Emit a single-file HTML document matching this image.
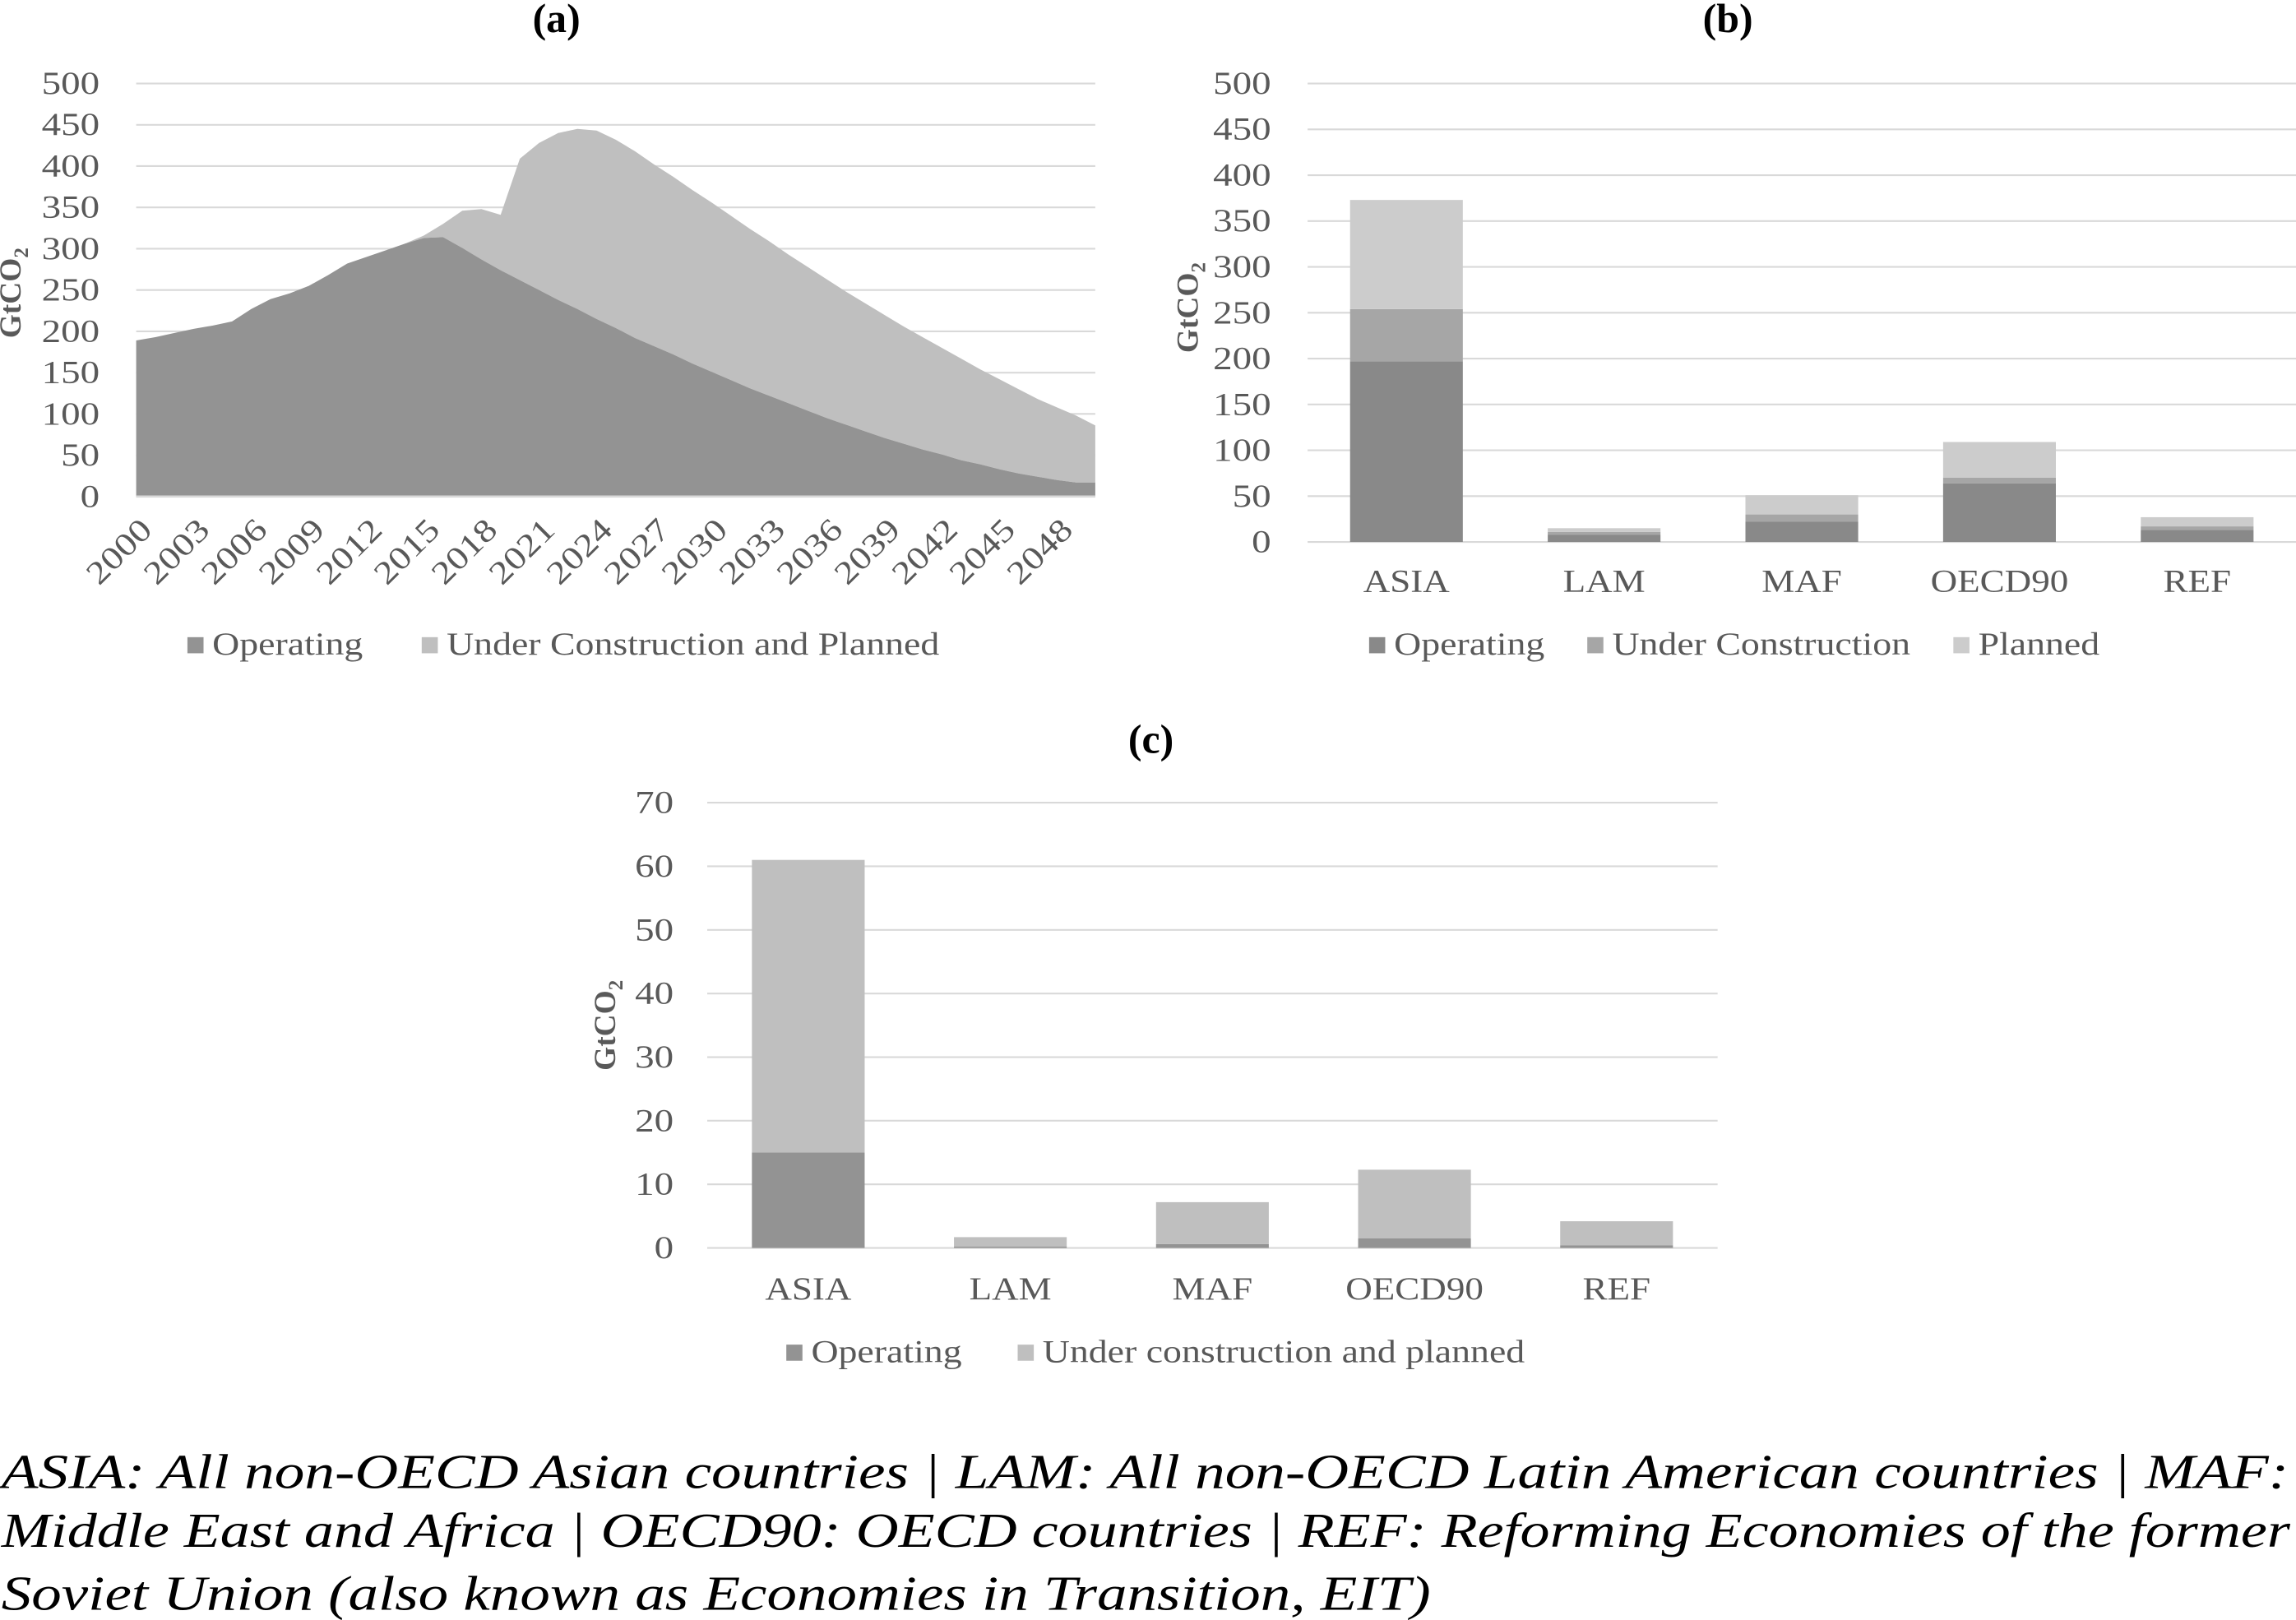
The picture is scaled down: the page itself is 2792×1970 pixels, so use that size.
<!DOCTYPE html>
<html><head><meta charset="utf-8">
<style>
html,body{margin:0;padding:0;background:#fff;}
svg{display:block;}
text{font-family:"Liberation Serif",serif;}
</style></head>
<body>
<svg id="root" width="2792" height="1970" viewBox="0 0 1568 1106" preserveAspectRatio="none" xmlns="http://www.w3.org/2000/svg">
<rect width="1568" height="1106" fill="#fff"/>
<g id="ga"></g>
<g id="gb"></g>
<g id="gc"></g>
<g font-style="italic" font-size="33" fill="#000">
<text x="1" y="1016" textLength="1562" lengthAdjust="spacingAndGlyphs">ASIA: All non-OECD Asian countries | LAM: All non-OECD Latin American countries | MAF:</text>
<text x="1" y="1056" textLength="1563" lengthAdjust="spacingAndGlyphs">Middle East and Africa | OECD90: OECD countries | REF: Reforming Economies of the former</text>
<text x="1" y="1099" textLength="976" lengthAdjust="spacingAndGlyphs">Soviet Union (also known as Economies in Transition, EIT)</text>
</g>
</svg>
<script>
// ---- Chart (a) data ----
const aYears = [];
for (let y = 2000; y <= 2050; y++) aYears.push(y);
const aOperating = [189,193,198,203,207,212,227,239,246,255,268,282,290,298,306,313,314,301,287,274,262,250,238,227,215,204,192,182,172,161,151,141,131,122,113,104,95,87,79,71,64,57,51,44,39,33,28,24,20,17,17];
const aTotal = [189,193,198,203,207,212,227,239,246,255,268,282,290,298,306,316,330,346,348,341,409,428,440,445,443,432,418,402,387,371,356,340,324,309,293,278,263,248,234,220,206,193,180,167,154,142,130,118,108,98,86];
const aUCP = aTotal.map((t, i) => t - aOperating[i]);
const aYTicks = [0,50,100,150,200,250,300,350,400,450,500];
const aXLabels = [2000,2003,2006,2009,2012,2015,2018,2021,2024,2027,2030,2033,2036,2039,2042,2045,2048];

// ---- Chart (b) data ----
const bCats = ["ASIA","LAM","MAF","OECD90","REF"];
const bOperating = [197,8,22,64,13];
const bUnderConstruction = [57,3,8,6,4];
const bPlanned = [119,4,21,39,10];
const bYTicks = [0,50,100,150,200,250,300,350,400,450,500];

// ---- Chart (c) data ----
const cCats = ["ASIA","LAM","MAF","OECD90","REF"];
const cOperating = [15,0.2,0.6,1.5,0.4];
const cUCP = [46,1.5,6.6,10.8,3.8];
const cYTicks = [0,10,20,30,40,50,60,70];

const NS = "http://www.w3.org/2000/svg";
function mk(parent, tag, attrs, txt) {
  const e = document.createElementNS(NS, tag);
  for (const k in attrs) e.setAttribute(k, attrs[k]);
  if (txt !== undefined) e.textContent = txt;
  parent.appendChild(e);
  return e;
}
function widen(t, f) {
  const w = t.getComputedTextLength();
  if (w > 0) { t.setAttribute("textLength", w * f); t.setAttribute("lengthAdjust", "spacingAndGlyphs"); }
}
const TICK = "#595959";

function yAxis(g, ticks, yScale, x0, x1, labelX) {
  ticks.forEach(t => {
    const l = mk(g, "line", {x1:x0, x2:x1, y1:yScale(t), y2:yScale(t), stroke:"#d9d9d9", "stroke-width":1.2});
    
    
    const tx = mk(g, "text", {x:labelX, y:yScale(t)+7, "text-anchor":"end", "font-size":22, fill:TICK}, String(t));
    
    
    widen(tx, 1.2);
  });
}
function yTitle(g, x, y) {
  const t = mk(g, "text", {transform:`translate(${x},${y}) rotate(-90)`, "text-anchor":"middle", "font-size":21, "font-weight":"bold", fill:TICK});
  
  
  mk(t, "tspan", {}, "GtCO");
  mk(t, "tspan", {dy:5, "font-size":14}, "2");
}
function title(g, x, y, s) {
  const t = mk(g, "text", {x:x, y:y, "text-anchor":"middle", "font-size":28, "font-weight":"bold", fill:"#000"}, s);
  
  
}
function legend(g, items, y) {
  items.forEach(it => {
    const r = mk(g, "rect", {x:it.x, y:y-12, width:11, height:11, fill:it.c});
    
    
    const t = mk(g, "text", {x:it.x+17, y:y, "font-size":22, fill:TICK}, it.s);
    
    
    widen(t, 1.17);
  });
}

// ---- Chart (a) ----
(function(){
  const g = document.getElementById("ga");
  const X0 = 93, X1 = 748, Y0 = 339, Y1 = 57;
  const x = yr => X0 + (yr - 2000) / 50 * (X1 - X0);
  const y = v => Y0 - v / 500 * (Y0 - Y1);
  title(g, 380, 22, "(a)");
  yAxis(g, aYTicks, y, X0, X1, 68);
  yTitle(g, 14, 200);
  let top = "", base = "";
  aYears.forEach((yr, i) => { top += (i ? "L" : "M") + x(yr) + "," + y(aOperating[i] + aUCP[i]); });
  for (let i = aYears.length - 1; i >= 0; i--) base += "L" + x(aYears[i]) + "," + y(aOperating[i]);
  const p2 = mk(g, "path", {d: top + base + "Z", fill:"#bfbfbf"});
  
  
  let op = "";
  aYears.forEach((yr, i) => { op += (i ? "L" : "M") + x(yr) + "," + y(aOperating[i]); });
  op += "L" + x(2050) + "," + y(0) + "L" + x(2000) + "," + y(0) + "Z";
  const p1 = mk(g, "path", {d: op, fill:"#939393"});
  
  
  const ax = mk(g, "line", {x1:X0, x2:X1, y1:Y0, y2:Y0, stroke:"#d9d9d9", "stroke-width":1.5});
  
  
  aXLabels.forEach(yr => {
    const t = mk(g, "text", {transform:`translate(${x(yr)+12},${Y0+24}) rotate(-45)`, "text-anchor":"end", "font-size":22, fill:TICK}, String(yr));
    
    
    widen(t, 1.2);
  });
  legend(g, [{x:128, c:"#939393", s:"Operating"}, {x:288, c:"#bfbfbf", s:"Under Construction and Planned"}], 447);
})();

// ---- Chart (b) ----
(function(){
  const g = document.getElementById("gb");
  const X0 = 893, X1 = 1568, Y0 = 370, Y1 = 57;
  const bw = (X1 - X0) / bCats.length;
  const y = v => Y0 - v / 500 * (Y0 - Y1);
  title(g, 1180, 22, "(b)");
  yAxis(g, bYTicks, y, X0, X1, 868);
  yTitle(g, 818, 210);
  bCats.forEach((c, i) => {
    const cx = X0 + bw * (i + 0.5), w = 77;
    let acc = 0;
    [[bOperating, "#898989", "bar-operating"], [bUnderConstruction, "#a6a6a6", "bar-under-construction"], [bPlanned, "#cccccc", "bar-planned"]].forEach(s => {
      const v = s[0][i];
      const r = mk(g, "rect", {x:cx - w/2, y:y(acc + v), width:w, height:y(acc) - y(acc + v), fill:s[1]});
      
      
      acc += v;
    });
    const t = mk(g, "text", {x:cx, y:404, "text-anchor":"middle", "font-size":22, fill:TICK}, c);
    
    
    widen(t, 1.15);
  });
  legend(g, [{x:935, c:"#898989", s:"Operating"}, {x:1084, c:"#a6a6a6", s:"Under Construction"}, {x:1334, c:"#cccccc", s:"Planned"}], 447);
})();

// ---- Chart (c) ----
(function(){
  const g = document.getElementById("gc");
  const X0 = 483, X1 = 1173, Y0 = 852, Y1 = 548;
  const bw = (X1 - X0) / cCats.length;
  const y = v => Y0 - v / 70 * (Y0 - Y1);
  title(g, 786, 514, "(c)");
  yAxis(g, cYTicks, y, X0, X1, 460);
  yTitle(g, 420, 700);
  cCats.forEach((c, i) => {
    const cx = X0 + bw * (i + 0.5), w = 77;
    let acc = 0;
    [[cOperating, "#939393", "bar-operating"], [cUCP, "#bfbfbf", "bar-under-construction-planned"]].forEach(s => {
      const v = s[0][i];
      const r = mk(g, "rect", {x:cx - w/2, y:y(acc + v), width:w, height:y(acc) - y(acc + v), fill:s[1]});
      
      
      acc += v;
    });
    const t = mk(g, "text", {x:cx, y:887, "text-anchor":"middle", "font-size":22, fill:TICK}, c);
    
    
    widen(t, 1.15);
  });
  legend(g, [{x:537, c:"#939393", s:"Operating"}, {x:695, c:"#bfbfbf", s:"Under construction and planned"}], 930);
})();
</script>
</body></html>
